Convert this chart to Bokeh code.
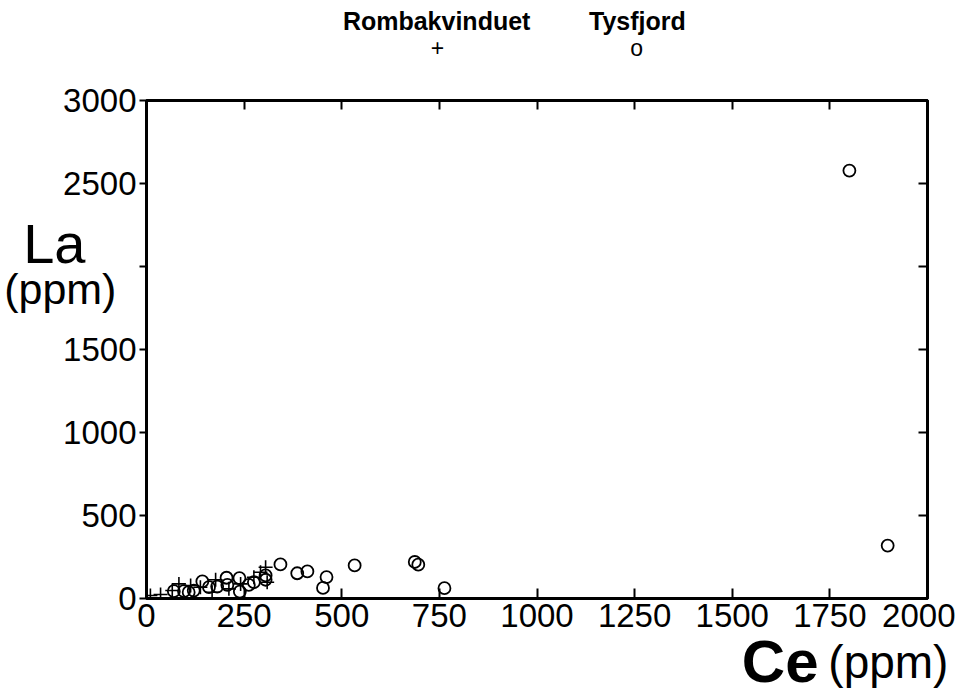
from bokeh.plotting import figure
from bokeh.models import Range1d, LinearAxis, FixedTicker
from bokeh.core.properties import value
from bokeh.embed import file_html
from bokeh.resources import INLINE

# Rombakvinduet (+)
romb_ce = [10, 36, 66, 83, 113, 138, 168, 177, 211, 241, 275, 292, 305, 309]
romb_la = [18, 24, 48, 88, 78, 68, 38, 113, 58, 88, 128, 158, 188, 98]

# Tysfjord (o)
tys_ce = [70, 96, 108, 121, 143, 160, 181, 205, 207, 238, 239, 262, 275, 305, 305,
          343, 386, 412, 452, 461, 533, 687, 696, 763, 1800, 1898]
tys_la = [44, 44, 38, 48, 103, 68, 72, 125, 82, 123, 42, 82, 98, 139, 113,
          205, 152, 163, 64, 129, 199, 220, 204, 62, 2578, 319]

x_ticks = [0, 250, 500, 750, 1000, 1250, 1500, 1750, 2000]
y_ticks = [0, 500, 1000, 1500, 2000, 2500, 3000]
legend_names = ["Rombakvinduet", "Tysfjord"]
legend_symbols = ["+", "o"]

FONT = "Liberation Sans"

p = figure(width=955, height=699, output_backend="svg", toolbar_location=None,
           x_range=Range1d(0, 2000), y_range=Range1d(0, 3000),
           min_border_left=146, min_border_right=28, min_border_top=100,
           min_border_bottom=101, x_axis_type=None, y_axis_type=None)
p.grid.visible = False
p.background_fill_color = "white"
p.border_fill_color = "white"
p.outline_line_color = "black"
p.outline_line_width = 3

def style_axis(ax, labels=True, tin=10, tout=0):
    ax.axis_line_width = 3
    ax.axis_line_color = "black"
    ax.major_tick_line_width = 2
    ax.major_tick_in = tin
    ax.major_tick_out = tout
    ax.minor_tick_line_color = None
    if labels:
        ax.major_label_text_font = FONT
        ax.major_label_text_font_size = "33px"
        ax.major_label_text_color = "black"
    else:
        ax.major_label_text_color = None
        ax.major_label_text_font_size = "1px"

xb = LinearAxis(ticker=FixedTicker(ticks=x_ticks))
style_axis(xb, True, 10, 0)
xb.major_label_standoff = 5
p.add_layout(xb, "below")

yl = LinearAxis(ticker=FixedTicker(ticks=y_ticks))
style_axis(yl, True, 0, 7)
yl.major_label_standoff = 3
yl.major_label_overrides = {2000: ""}
p.add_layout(yl, "left")

xt = LinearAxis(ticker=FixedTicker(ticks=x_ticks))
style_axis(xt, False, 9, 0)
p.add_layout(xt, "above")

yr = LinearAxis(ticker=FixedTicker(ticks=y_ticks))
style_axis(yr, False, 9, 0)
p.add_layout(yr, "right")

p.scatter(romb_ce, romb_la, marker="cross", size=14, line_color="black",
          line_width=1.6)
p.scatter(tys_ce, tys_la, marker="circle", size=12, fill_color=None,
          line_color="black", line_width=1.8)

# legend: name above its symbol (drawn outside the frame -> overlay level)
p.text(x=[743, 1257], y=[3476, 3476], text=legend_names, text_align="center",
       text_baseline="middle", text_font=value(FONT), text_font_size="25px",
       text_font_style="bold", text_color="black", level="overlay")
p.text(x=[745, 1255], y=[3319, 3319], text=legend_symbols, text_align="center",
       text_baseline="middle", text_font=value(FONT), text_font_size="23px",
       text_color="black", level="overlay")

# axis titles
p.text(x=[-236], y=[2140], text=["La"], text_align="center",
       text_baseline="middle", text_font=value(FONT), text_font_size="56px",
       text_color="black", level="overlay")
p.text(x=[-77], y=[1865], text=["(ppm)"], text_align="right",
       text_baseline="middle", text_font=value(FONT), text_font_size="43px",
       text_color="black", level="overlay")
p.text(x=[1721], y=[-382], text=["Ce"], text_align="right",
       text_baseline="middle", text_font=value(FONT), text_font_size="60px",
       text_font_style="bold", text_color="black", level="overlay")
p.text(x=[1746], y=[-382], text=["(ppm)"], text_align="left",
       text_baseline="middle", text_font=value(FONT), text_font_size="46px",
       text_color="black", level="overlay")

open("out.html", "w").write(file_html(p, INLINE))
